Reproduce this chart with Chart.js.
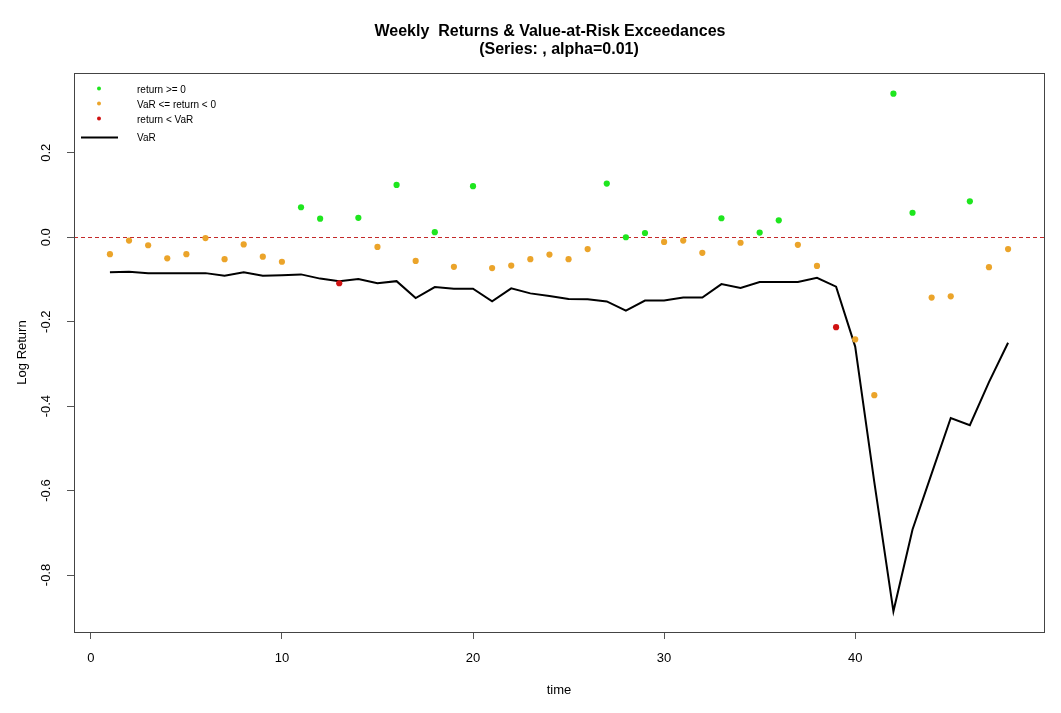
<!DOCTYPE html>
<html>
<head>
<meta charset="utf-8">
<title>Weekly Returns & Value-at-Risk Exceedances</title>
<script src="https://cdn.jsdelivr.net/npm/chart.js@4.4.1/dist/chart.umd.min.js"></script>
<style>
  html, body { margin: 0; padding: 0; background: #ffffff; }
  #wrap { width: 1061px; height: 713px; }
</style>
</head>
<body>
<div id="wrap"><canvas id="var_chart" width="1061" height="713"></canvas></div>
<script>
// week index (time axis)
const weeks = [1, 2, 3, 4, 5, 6, 7, 8, 9, 10, 11, 12, 13, 14, 15, 16, 17, 18, 19, 20, 21, 22, 23, 24,
  25, 26, 27, 28, 29, 30, 31, 32, 33, 34, 35, 36, 37, 38, 39, 40, 41, 42, 43, 44, 45, 46, 47, 48];

// weekly log returns
const logReturns = [-0.040, -0.008, -0.019, -0.050, -0.040, -0.002, -0.052, -0.017, -0.046, -0.058,
  0.071, 0.044, -0.109, 0.046, -0.023, 0.124, -0.056, 0.012, -0.070, 0.121,
  -0.073, -0.067, -0.052, -0.041, -0.052, -0.028, 0.127, 0.000, 0.010, -0.011,
  -0.008, -0.037, 0.045, -0.013, 0.011, 0.040, -0.018, -0.068, -0.213, -0.242,
  -0.374, 0.340, 0.058, -0.143, -0.140, 0.085, -0.071, -0.028];

// value-at-risk level per week
const varLevels = [-0.083, -0.082, -0.085, -0.085, -0.085, -0.085, -0.091, -0.083, -0.091, -0.090,
  -0.088, -0.098, -0.104, -0.099, -0.109, -0.104, -0.144, -0.118, -0.122, -0.122,
  -0.152, -0.121, -0.133, -0.139, -0.146, -0.147, -0.152, -0.174, -0.150, -0.150,
  -0.143, -0.143, -0.111, -0.120, -0.106, -0.106, -0.106, -0.096, -0.117, -0.259,
  -0.580, -0.886, -0.692, -0.560, -0.428, -0.445, -0.343, -0.250];

const xTicks = [0, 10, 20, 30, 40];
const yTicks = [-0.8, -0.6, -0.4, -0.2, 0.0, 0.2];
const zeroLine = 0;

const titleLines = ["Weekly  Returns & Value-at-Risk Exceedances", "(Series: , alpha=0.01)"];
const xTitle = "time";
const yTitle = "Log Return";

const FONT = '"Liberation Sans", Arial, sans-serif';
const GREEN = "#1ee61e";
const ORANGE = "#eba42a";
const RED = "#d01212";

// split returns into the three groups
const positivePts = [];
const insidePts = [];
const breachPts = [];
weeks.forEach((w, i) => {
  const r = logReturns[i];
  const v = varLevels[i];
  if (r >= 0) positivePts.push({ x: w, y: r });
  else if (r >= v) insidePts.push({ x: w, y: r });
  else breachPts.push({ x: w, y: r });
});
const varLine = weeks.map((w, i) => ({ x: w, y: varLevels[i] }));

// box, zero line, titles, rotated y labels, legend
const decorPlugin = {
  id: "decor",
  beforeDatasetsDraw(chart) {
    const { ctx, chartArea } = chart;
    const y0 = chart.scales.y.getPixelForValue(zeroLine);
    ctx.save();
    ctx.strokeStyle = "#c42a2a";
    ctx.lineWidth = 1;
    ctx.setLineDash([4, 3]);
    ctx.beginPath();
    ctx.moveTo(chartArea.left, Math.round(y0) + 0.5);
    ctx.lineTo(chartArea.right, Math.round(y0) + 0.5);
    ctx.stroke();
    ctx.restore();
  },
  afterDraw(chart) {
    const { ctx, chartArea } = chart;
    const yScale = chart.scales.y;
    const midX = (chartArea.left + chartArea.right) / 2;
    ctx.save();

    // plot frame
    ctx.strokeStyle = "#444";
    ctx.lineWidth = 1;
    ctx.strokeRect(chartArea.left + 0.5, chartArea.top + 0.5,
      chartArea.right - chartArea.left, chartArea.bottom - chartArea.top);

    // main title
    ctx.fillStyle = "#000";
    ctx.font = "bold 16px " + FONT;
    ctx.textAlign = "center";
    ctx.textBaseline = "middle";
    ctx.fillText(titleLines[0], midX - 9, 32);
    ctx.fillText(titleLines[1], midX, 50);

    // axis titles
    ctx.font = "13px " + FONT;
    ctx.fillText(xTitle, midX, 690);
    ctx.save();
    ctx.translate(22, (chartArea.top + chartArea.bottom) / 2);
    ctx.rotate(-Math.PI / 2);
    ctx.fillText(yTitle, 0, 0);
    ctx.restore();

    // y tick labels, R style (rotated)
    yTicks.forEach((t) => {
      const py = yScale.getPixelForValue(t);
      ctx.save();
      ctx.translate(46, py);
      ctx.rotate(-Math.PI / 2);
      ctx.fillText(t.toFixed(1), 0, 0);
      ctx.restore();
    });

    // legend
    const items = chart.data.datasets;
    const rows = [90, 105, 120, 138.5];
    ctx.font = "10px " + FONT;
    ctx.textAlign = "left";
    items.forEach((ds, i) => {
      const ry = rows[i];
      if (ds.showLine) {
        ctx.strokeStyle = ds.borderColor;
        ctx.lineWidth = 2;
        ctx.beginPath();
        ctx.moveTo(81, ry - 1);
        ctx.lineTo(118, ry - 1);
        ctx.stroke();
      } else {
        ctx.fillStyle = ds.backgroundColor;
        ctx.beginPath();
        ctx.arc(99, ry - 1.5, 2, 0, Math.PI * 2);
        ctx.fill();
      }
      ctx.fillStyle = "#000";
      ctx.fillText(ds.label, 137, ry);
    });
    ctx.restore();
  },
};

function pointSet(label, pts, color) {
  return {
    type: "scatter",
    label: label,
    data: pts,
    backgroundColor: color,
    borderColor: color,
    borderWidth: 0,
    pointRadius: 3.1,
    pointHoverRadius: 3.1,
    showLine: false,
  };
}

const chart = new Chart(document.getElementById("var_chart").getContext("2d"), {
  type: "scatter",
  data: {
    datasets: [
      pointSet("return >= 0", positivePts, GREEN),
      pointSet("VaR <= return < 0", insidePts, ORANGE),
      pointSet("return < VaR", breachPts, RED),
      {
        type: "line",
        label: "VaR",
        data: varLine,
        borderColor: "#000000",
        backgroundColor: "#000000",
        borderWidth: 2,
        pointRadius: 0,
        tension: 0,
        showLine: true,
        fill: false,
      },
    ],
  },
  options: {
    responsive: false,
    animation: false,
    devicePixelRatio: 1,
    layout: { padding: { top: 73, right: 17, left: 0, bottom: 0 } },
    plugins: {
      legend: { display: false },
      title: { display: false },
      tooltip: { enabled: false },
    },
    scales: {
      x: {
        type: "linear",
        position: "bottom",
        min: -0.88,
        max: 49.88,
        afterBuildTicks: (scale) => { scale.ticks = xTicks.map((v) => ({ value: v })); },
        afterFit: (scale) => { scale.height = 81; },
        ticks: {
          color: "#000",
          font: { family: FONT, size: 13 },
          padding: 12,
          maxRotation: 0,
          callback: (v) => String(v),
        },
        grid: { drawOnChartArea: false, drawTicks: true, tickLength: 7, color: "#555" },
        border: { display: true, color: "#444", width: 1 },
      },
      y: {
        type: "linear",
        min: -0.935,
        max: 0.389,
        afterBuildTicks: (scale) => { scale.ticks = yTicks.map((v) => ({ value: v })); },
        afterFit: (scale) => { scale.width = 74; },
        ticks: {
          color: "rgba(0,0,0,0)",
          font: { family: FONT, size: 13 },
        },
        grid: { drawOnChartArea: false, drawTicks: true, tickLength: 7, color: "#555" },
        border: { display: true, color: "#444", width: 1 },
      },
    },
  },
  plugins: [decorPlugin],
});
</script>
</body>
</html>
